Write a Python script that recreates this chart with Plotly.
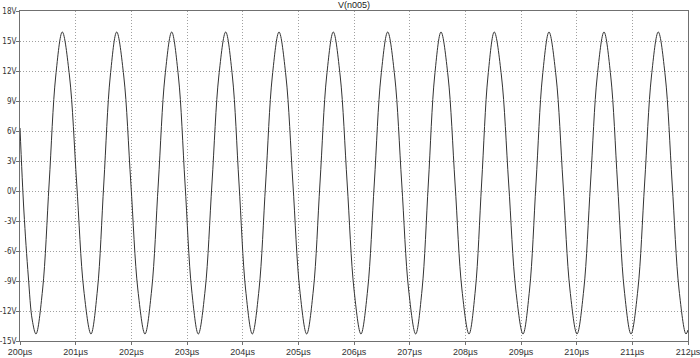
import plotly.graph_objects as go

# Time (µs) and voltage (V) samples
t_us = [
    200.000, 200.070, 200.150, 200.220, 200.287,
    200.405, 200.524, 200.642, 200.760,
    200.889, 201.018, 201.146, 201.275,
    201.391, 201.506, 201.622, 201.737,
    201.864, 201.991, 202.118, 202.245,
    202.365, 202.485, 202.605, 202.725,
    202.845, 202.964, 203.084, 203.203,
    203.326, 203.449, 203.572, 203.695,
    203.815, 203.934, 204.054, 204.173,
    204.293, 204.413, 204.533, 204.653,
    204.777, 204.902, 205.026, 205.150,
    205.270, 205.389, 205.509, 205.628,
    205.752, 205.877, 206.001, 206.125,
    206.245, 206.365, 206.485, 206.605,
    206.731, 206.857, 206.982, 207.108,
    207.222, 207.336, 207.449, 207.563,
    207.689, 207.815, 207.940, 208.066,
    208.180, 208.293, 208.407, 208.520,
    208.649, 208.778, 208.907, 209.036,
    209.153, 209.270, 209.386, 209.503,
    209.629, 209.755, 209.880, 210.006,
    210.127, 210.249, 210.370, 210.491,
    210.612, 210.734, 210.855, 210.976,
    211.099, 211.221, 211.344, 211.466,
    211.591, 211.715, 211.840, 211.964,
    212.000,
]
v_n005 = [
    6.3, -2.0, -8.6, -12.9, -14.3,
    -9.9, 0.8, 11.5, 15.9,
    11.5, 0.8, -9.9, -14.3,
    -9.9, 0.8, 11.5, 15.9,
    11.5, 0.8, -9.9, -14.3,
    -9.9, 0.8, 11.5, 15.9,
    11.5, 0.8, -9.9, -14.3,
    -9.9, 0.8, 11.5, 15.9,
    11.5, 0.8, -9.9, -14.3,
    -9.9, 0.8, 11.5, 15.9,
    11.5, 0.8, -9.9, -14.3,
    -9.9, 0.8, 11.5, 15.9,
    11.5, 0.8, -9.9, -14.3,
    -9.9, 0.8, 11.5, 15.9,
    11.5, 0.8, -9.9, -14.3,
    -9.9, 0.8, 11.5, 15.9,
    11.5, 0.8, -9.9, -14.3,
    -9.9, 0.8, 11.5, 15.9,
    11.5, 0.8, -9.9, -14.3,
    -9.9, 0.8, 11.5, 15.9,
    11.5, 0.8, -9.9, -14.3,
    -9.9, 0.8, 11.5, 15.9,
    11.5, 0.8, -9.9, -14.3,
    -9.9, 0.8, 11.5, 15.9,
    11.5, 0.8, -9.9, -14.3,
    -13.9,
]

x_tick_vals = [200, 201, 202, 203, 204, 205, 206, 207, 208, 209, 210, 211, 212]
x_tick_text = ["200µs", "201µs", "202µs", "203µs", "204µs", "205µs", "206µs",
               "207µs", "208µs", "209µs", "210µs", "211µs", "212µs"]
y_tick_vals = [18, 15, 12, 9, 6, 3, 0, -3, -6, -9, -12, -15]
y_tick_text = ["18V", "15V", "12V", "9V", "6V", "3V", "0V", "-3V", "-6V",
               "-9V", "-12V", "-15V"]
title_text = "V(n005)"

fig = go.Figure()
fig.add_trace(go.Scatter(
    x=t_us, y=v_n005, mode="lines",
    line=dict(color="#333333", width=1, shape="spline", smoothing=1.0),
    hoverinfo="skip", showlegend=False,
))

x_font = dict(family="Liberation Sans, Arial, sans-serif", size=9, color="#333333")
y_font = dict(family="DejaVu Sans Condensed, Liberation Sans Narrow, Liberation Sans, sans-serif",
              size=8, color="#333333")

fig.update_layout(
    width=700, height=358,
    margin=dict(l=20, r=12, t=11, b=17, autoexpand=False),
    paper_bgcolor="white", plot_bgcolor="white",
    showlegend=False,
    annotations=[dict(
        text=title_text, x=0.5, y=1, xref="paper", yref="paper",
        xanchor="center", yanchor="bottom", yshift=-1, showarrow=False,
        font=dict(family="Liberation Sans, Arial, sans-serif", size=9, color="#222222"),
    )],
)
fig.update_xaxes(
    range=[200, 212], tickvals=x_tick_vals, ticktext=x_tick_text,
    showgrid=True, gridcolor="#a0a0a0", griddash="1px,2px", gridwidth=1,
    showline=True, linecolor="#707070", linewidth=1, mirror=True,
    ticks="outside", ticklen=3, tickcolor="#707070", automargin=False,
    ticklabeloverflow="allow", ticklabelstandoff=-1,
    tickfont=x_font, zeroline=False,
)
fig.update_yaxes(
    range=[-15, 18], tickvals=y_tick_vals, ticktext=y_tick_text,
    showgrid=True, gridcolor="#a0a0a0", griddash="1px,2px", gridwidth=1,
    showline=True, linecolor="#707070", linewidth=1, mirror=True,
    ticks="outside", ticklen=3, tickcolor="#707070", automargin=False,
    ticklabeloverflow="allow", ticklabelstandoff=-2,
    tickfont=y_font, zeroline=False,
)

fig.write_html("out.html")
